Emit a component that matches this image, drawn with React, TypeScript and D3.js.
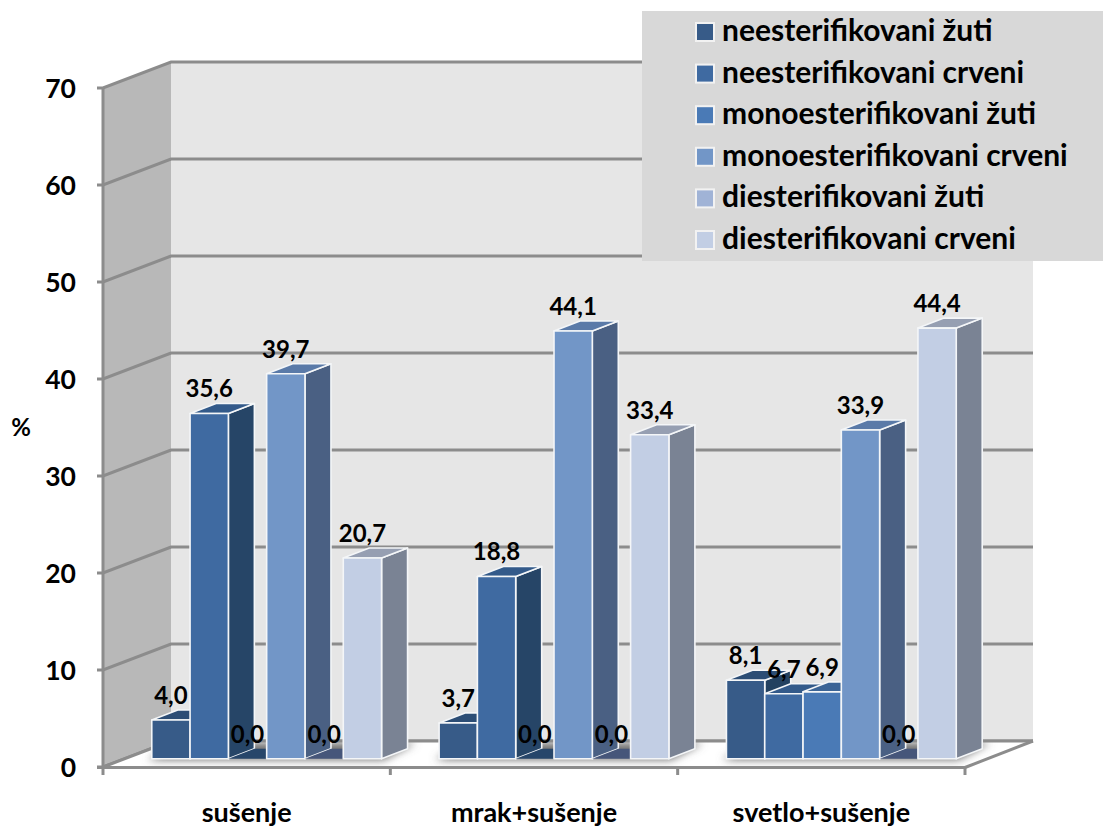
import React from 'react';
import * as d3 from 'd3';

const categories = ['sušenje', 'mrak+sušenje', 'svetlo+sušenje'];
const seriesNames = ['neesterifikovani žuti', 'neesterifikovani crveni', 'monoesterifikovani žuti', 'monoesterifikovani crveni', 'diesterifikovani žuti', 'diesterifikovani crveni'];
const neZuti = [4.0, 3.7, 8.1];
const neCrveni = [35.6, 18.8, 6.7];
const monoZuti = [0.0, 0.0, 6.9];
const monoCrveni = [39.7, 44.1, 33.9];
const diZuti = [0.0, 0.0, 0.0];
const diCrveni = [20.7, 33.4, 44.4];
const allSeries = [neZuti, neCrveni, monoZuti, monoCrveni, diZuti, diCrveni];
const yTicks = [0, 10, 20, 30, 40, 50, 60, 70];
const frontColors = ['#375b88', '#3f6aa1', '#4a7ab6', '#7296c7', '#a0b3d6', '#c2cee4'];
const sideColors = ['#234160', '#264567', '#2f4f77', '#4a6083', '#687590', '#7a8394'];
const topColors = ['#2c4d75', '#335a8a', '#3b6496', '#5a7aa8', '#7d90b0', '#969fb2'];
const zeroTopColors = ['#2c4d75', '#335a8a', '#27466a', '#5a7aa8', '#46567a', '#969fb2'];
const legendSwatch = ['#375b88', '#3f6aa1', '#4a7ab6', '#7296c7', '#a0b3d6', '#c2cee4'];

const FONT = 'Lato, "Open Sans", sans-serif';
const DX = 68, DY = 26; // wall depth
const BDX = 26, BDY = 10; // bar depth
const FX = 20, FY = 8.2; // bar plane offset from front edge

const y = d3.scaleLinear().domain([0, 70]).range([767, 88]);
const xGroup = d3.scaleBand<string>().domain(categories).range([103, 965]);
const barW = 38.3;
const xBar = d3.scaleBand<number>().domain(d3.range(6)).range([0, barW * 6]);
const pts = (a: number[][]) => a.map(p => p.join(',')).join(' ');

export default function App() {
  const x0 = y.range()[0];
  const left = xGroup.range()[0], right = xGroup.range()[1];
  const backL = left + DX, backR = right + DX;
  const base = y(0) - FY;
  const bars: React.ReactNode[] = [];
  const labels: React.ReactNode[] = [];
  const shadows: React.ReactNode[] = [];
  categories.forEach((c, g) => {
    const gx = xGroup(c)! + (xGroup.bandwidth() - barW * 6) / 2 + FX;
    const W = barW * 6;
    shadows.push(
      <polygon key={c} points={pts([[gx - 4, base + 1], [gx + W + 2, base + 1], [gx + W + BDX + 8, base - BDY - 6], [gx + BDX, base - BDY - 6]])} fill="#6e6e6e" />
    );
    allSeries.forEach((s, i) => {
      const v = s[g];
      const bx = gx + xBar(i)!;
      const top = y(v) - FY;
      const w = xBar.bandwidth();
      if (v > 0) {
        bars.push(
          <g key={`${g}-${i}`} stroke="#f4f6f8" strokeWidth={1.6} strokeLinejoin="round">
            <polygon points={pts([[bx + w, top], [bx + w + BDX, top - BDY], [bx + w + BDX, base - BDY], [bx + w, base]])} fill={sideColors[i]} />
            <polygon points={pts([[bx, top], [bx + w, top], [bx + w + BDX, top - BDY], [bx + BDX, top - BDY]])} fill={topColors[i]} />
            <rect x={bx} y={top} width={w} height={base - top} fill={frontColors[i]} />
          </g>
        );
      } else {
        bars.push(
          <polygon key={`${g}-${i}`} points={pts([[bx, top], [bx + w, top], [bx + w + BDX, top - BDY], [bx + BDX, top - BDY]])} fill={zeroTopColors[i]} />
        );
      }
      labels.push(
        <text key={`l${g}-${i}`} x={bx + w / 2} y={top - 16} textAnchor="middle" fontSize={24} fontWeight={700} fill="#000">
          {v.toFixed(1).replace('.', ',')}
        </text>
      );
    });
  });
  return (
    <svg width={1103} height={827} style={{ position: 'absolute', left: 0, top: 0, background: '#fff' }} fontFamily={FONT}>
      <defs>
        <filter id="blur" x="-10%" y="-60%" width="120%" height="220%">
          <feGaussianBlur stdDeviation="4" />
        </filter>
        <filter id="blurSmall" x="-5%" y="-300%" width="110%" height="700%">
          <feGaussianBlur stdDeviation="0.8" />
        </filter>
        <clipPath id="floorClip">
          <polygon points={pts([[left + 2, x0 - 1], [right, x0 - 1], [backR, x0 - DY], [backL, x0 - DY]])} />
        </clipPath>
      </defs>
      {/* walls */}
      <polygon points={pts([[left, y(70)], [backL, y(70) - DY], [backL, x0 - DY], [left, x0]])} fill="#b8b8b8" />
      <rect x={backL} y={y(70) - DY} width={backR - backL} height={y(0) - y(70)} fill="#e6e6e6" />
      {/* gridlines */}
      {yTicks.map(t => (
        <g key={t} stroke="#8c8c8c" strokeWidth={3} fill="none">
          <polyline points={pts([[left - 6, y(t)], [left, y(t)], [backL, y(t) - DY], [backR, y(t) - DY]])} />
        </g>
      ))}
      {/* floor */}
      <polygon points={pts([[left + 2, x0 - 1], [right, x0 - 1], [backR, x0 - DY], [backL, x0 - DY]])} fill="#ffffff" />
      <g clipPath="url(#floorClip)">
        <g filter="url(#blur)">{shadows}</g>
        <line x1={left + 20} y1={x0 - 6} x2={right - 3} y2={x0 - 6} stroke="#a6a6a6" strokeWidth={2.5} filter="url(#blurSmall)" />
      </g>
      <line x1={backL} y1={x0 - DY} x2={backR} y2={x0 - DY} stroke="#8c8c8c" strokeWidth={3} />
      <line x1={left} y1={x0} x2={backL} y2={x0 - DY} stroke="#8c8c8c" strokeWidth={3} />
      <line x1={left - 6} y1={x0 + 0.5} x2={right} y2={x0 + 0.5} stroke="#8c8c8c" strokeWidth={3} />
      <line x1={right} y1={x0 + 0.5} x2={backR} y2={x0 - DY} stroke="#8c8c8c" strokeWidth={3} />
      {/* axes */}
      <line x1={left} y1={y(70)} x2={left} y2={x0} stroke="#8c8c8c" strokeWidth={3} />
      {categories.map(c => (
        <line key={c} x1={xGroup(c)!} y1={x0} x2={xGroup(c)!} y2={x0 + 8} stroke="#8c8c8c" strokeWidth={3} />
      ))}
      <line x1={right} y1={x0} x2={right} y2={x0 + 8} stroke="#8c8c8c" strokeWidth={3} />
      {bars}
      {labels}
      {/* tick labels */}
      {yTicks.map(t => (
        <text key={t} x={76} y={y(t) + 10} textAnchor="end" fontSize={26.5} fontWeight={700} fill="#000">{t}</text>
      ))}
      <text x={21} y={436} textAnchor="middle" fontSize={24} fontWeight={700} fill="#000">%</text>
      {categories.map(c => (
        <text key={c} x={xGroup(c)! + xGroup.bandwidth() / 2} y={822} textAnchor="middle" fontSize={27} fontWeight={700} fill="#000">{c}</text>
      ))}
      {/* legend */}
      <rect x={642} y={11} width={461} height={250} fill="#d8d8d8" />
      {seriesNames.map((n, i) => (
        <g key={n}>
          <rect x={696} y={23 + i * 41.6} width={18} height={18} fill={legendSwatch[i]} stroke="#f2f2f2" strokeWidth={2} />
          <text x={722} y={41 + i * 41.6} fontSize={30} fontWeight={700} fill="#000">{n}</text>
        </g>
      ))}
    </svg>
  );
}
